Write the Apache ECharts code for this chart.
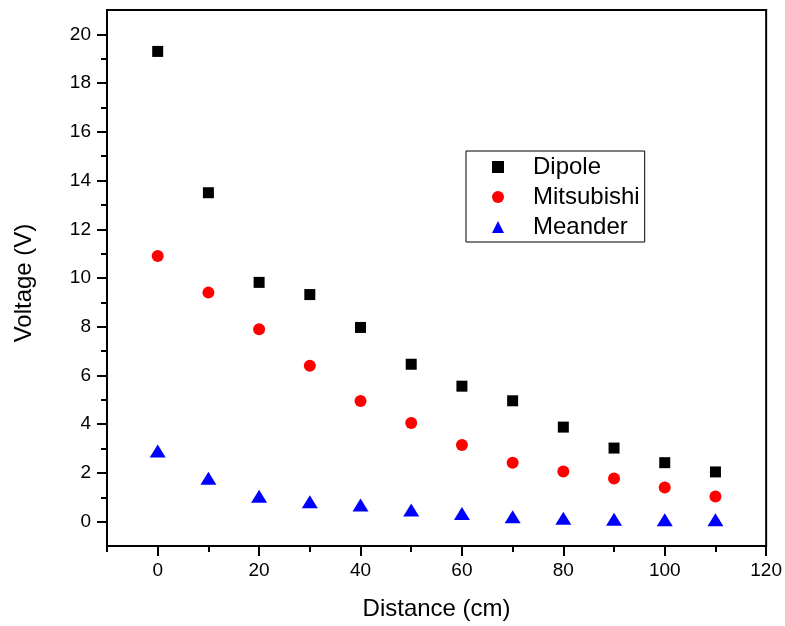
<!DOCTYPE html>
<html>
<head>
<meta charset="utf-8">
<script src="https://cdn.jsdelivr.net/npm/echarts@6/dist/echarts.min.js"></script>
<style>
	html, body { margin: 0; padding: 0; background: #fff; }
	#chart { width: 785px; height: 626px; }
</style>
</head>
<body>
<div id="chart"></div>
<script>
const distance = [0, 10, 20, 30, 40, 50, 60, 70, 80, 90, 100, 110];
const dipole = [19.3, 13.5, 9.82, 9.32, 7.97, 6.46, 5.56, 4.96, 3.88, 3.02, 2.42, 2.04];
const mitsubishi = [10.9, 9.4, 7.9, 6.4, 4.95, 4.05, 3.15, 2.42, 2.06, 1.77, 1.4, 1.03];
const meander = [2.9, 1.78, 1.04, 0.82, 0.68, 0.48, 0.33, 0.2, 0.14, 0.1, 0.08, 0.08];

const xMajorTicks = [0, 20, 40, 60, 80, 100, 120];
const xMinorTicks = [-10, 10, 30, 50, 70, 90, 110];
const yMajorTicks = [0, 2, 4, 6, 8, 10, 12, 14, 16, 18, 20];
const yMinorTicks = [1, 3, 5, 7, 9, 11, 13, 15, 17, 19];

const font = 'Liberation Sans, Arial, sans-serif';

function pairs(values) {
	let out = []
	for (let i = 0; i < distance.length; i++) {
		out.push([distance[i], values[i]])
	}
	return out
}

var chart = echarts.init(document.getElementById('chart'));

var option = {
	animation: false,
	backgroundColor: '#fff',
	textStyle: { fontFamily: font },
	grid: {
		left: 107,
		right: 17,
		top: 10,
		bottom: 78,
		show: true,
		borderColor: '#000',
		borderWidth: 2,
		backgroundColor: 'transparent'
	},
	legend: {
		orient: 'vertical',
		left: 466,
		top: 151,
		padding: [4, 5, 3, 26],
		itemGap: 6,
		itemWidth: 12,
		itemHeight: 12,
		borderColor: '#000',
		borderWidth: 1,
		textStyle: {
			fontFamily: font,
			fontSize: 24,
			lineHeight: 24,
			color: '#000',
			padding: [0, 0, 0, 24]
		},
		data: [
			{ name: 'Dipole', icon: 'rect' },
			{ name: 'Mitsubishi', icon: 'circle' },
			{ name: 'Meander', icon: 'triangle' }
		]
	},
	xAxis: [
		{
			type: 'value',
			min: -10,
			max: 120,
			name: 'Distance (cm)',
			nameLocation: 'middle',
			nameGap: 51,
			nameTextStyle: { fontFamily: font, fontSize: 24, color: '#000' },
			axisLine: { onZero: false, lineStyle: { color: '#000', width: 2 } },
			axisTick: {
				inside: false,
				length: 10,
				lineStyle: { color: '#000', width: 2 },
				customValues: xMajorTicks
			},
			axisLabel: {
				margin: 15,
				fontFamily: font,
				fontSize: 19,
				color: '#000',
				customValues: xMajorTicks
			},
			splitLine: { show: false }
		},
		{
			type: 'value',
			min: -10,
			max: 120,
			position: 'bottom',
			axisLine: { show: false, onZero: false },
			axisTick: {
				length: 6,
				lineStyle: { color: '#000', width: 2 },
				customValues: xMinorTicks
			},
			axisLabel: { show: false },
			splitLine: { show: false }
		}
	],
	yAxis: [
		{
			type: 'value',
			min: -1,
			max: 21,
			name: 'Voltage (V)',
			nameLocation: 'middle',
			nameGap: 71,
			nameTextStyle: {
				fontFamily: font,
				fontSize: 24,
				color: '#000',
				padding: [0, 10, 0, 0]
			},
			axisLine: { show: true, onZero: false, lineStyle: { color: '#000', width: 2 } },
			axisTick: {
				show: true,
				length: 10,
				lineStyle: { color: '#000', width: 2 },
				customValues: yMajorTicks
			},
			axisLabel: {
				margin: 16,
				fontFamily: font,
				fontSize: 19,
				color: '#000',
				customValues: yMajorTicks
			},
			splitLine: { show: false }
		},
		{
			type: 'value',
			min: -1,
			max: 21,
			position: 'left',
			axisLine: { show: false, onZero: false },
			axisTick: {
				show: true,
				length: 6,
				lineStyle: { color: '#000', width: 2 },
				customValues: yMinorTicks
			},
			axisLabel: { show: false },
			splitLine: { show: false }
		}
	],
	series: [
		{
			name: 'Dipole',
			type: 'scatter',
			symbol: 'rect',
			symbolSize: 11,
			itemStyle: { color: '#000', opacity: 1 },
			data: pairs(dipole)
		},
		{
			name: 'Mitsubishi',
			type: 'scatter',
			symbol: 'circle',
			symbolSize: 12,
			itemStyle: { color: '#ff0000', opacity: 1 },
			data: pairs(mitsubishi)
		},
		{
			name: 'Meander',
			type: 'scatter',
			symbol: 'triangle',
			symbolSize: [16, 13],
			itemStyle: { color: '#0000ff', opacity: 1 },
			data: pairs(meander)
		}
	]
};

chart.setOption(option);
</script>
</body>
</html>
